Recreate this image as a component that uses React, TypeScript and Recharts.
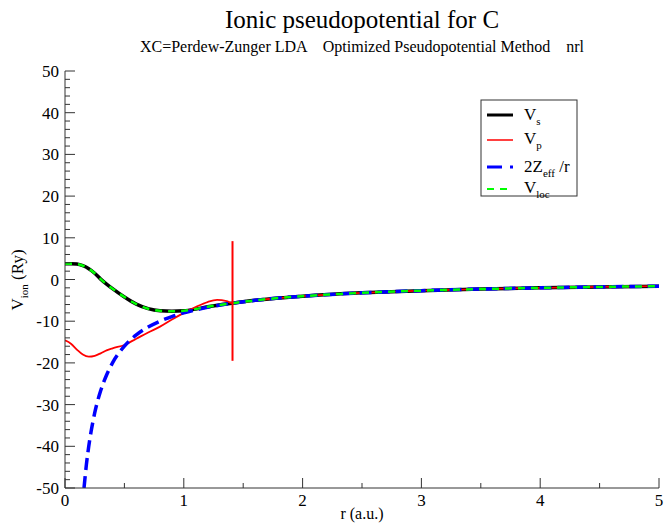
import React from 'react';
import { LineChart, Line, XAxis, YAxis } from 'recharts';

const FONT = 'Liberation Serif, Times New Roman, Times, serif';

// r grid and values (Ry)
const rVs = [0, 0.05, 0.1, 0.15, 0.2, 0.25, 0.3, 0.35, 0.4, 0.5, 0.6, 0.7, 0.8, 0.9, 1.0, 1.1, 1.2, 1.3, 1.41, 1.6, 1.8, 2.0, 2.5, 3.0, 3.5, 4.0, 4.5, 5.0];
const vS = [3.8, 3.8, 3.7, 3.3, 2.6, 1.5, 0.1, -1.1, -2.2, -4.2, -5.9, -7.0, -7.5, -7.6, -7.5, -7.1, -6.55, -6.1, -5.67, -5.0, -4.44, -4.0, -3.2, -2.67, -2.29, -2.0, -1.78, -1.6];
const vLoc = [3.8, 3.8, 3.7, 3.3, 2.6, 1.5, 0.1, -1.1, -2.2, -4.2, -5.9, -7.0, -7.5, -7.6, -7.5, -7.1, -6.55, -6.1, -5.67, -5.0, -4.44, -4.0, -3.2, -2.67, -2.29, -2.0, -1.78, -1.6];

const rVp = [0, 0.05, 0.1, 0.15, 0.2, 0.25, 0.3, 0.35, 0.4, 0.5, 0.6, 0.7, 0.8, 0.9, 1.0, 1.1, 1.2, 1.28, 1.36, 1.41, 1.6, 1.8, 2.0, 2.5, 3.0, 3.5, 4.0, 4.5, 5.0];
const vP = [-14.6, -15.4, -16.8, -18.0, -18.5, -18.3, -17.7, -17.0, -16.5, -15.7, -14.2, -12.7, -11.3, -9.6, -8.0, -6.6, -5.4, -4.9, -5.2, -5.67, -5.0, -4.44, -4.0, -3.2, -2.67, -2.29, -2.0, -1.78, -1.6];

const rZ = [0.16, 0.17, 0.18, 0.2, 0.22, 0.25, 0.3, 0.35, 0.4, 0.5, 0.6, 0.7, 0.8, 0.9, 1.0, 1.2, 1.4, 1.6, 1.8, 2.0, 2.5, 3.0, 3.5, 4.0, 4.5, 5.0];
const vZ = [-50, -47.1, -44.4, -40, -36.4, -32, -26.7, -22.9, -20, -16, -13.3, -11.4, -10, -8.9, -8, -6.67, -5.71, -5.0, -4.44, -4.0, -3.2, -2.67, -2.29, -2.0, -1.78, -1.6];

const rCut = [1.41, 1.41];
const vCut = [9.2, -19.5];

const xTicks = [0, 0.5, 1, 1.5, 2, 2.5, 3, 3.5, 4, 4.5, 5];
const yTicks = [-50, -48, -46, -44, -42, -40, -38, -36, -34, -32, -30, -28, -26, -24, -22, -20, -18, -16, -14, -12, -10, -8, -6, -4, -2, 0, 2, 4, 6, 8, 10, 12, 14, 16, 18, 20, 22, 24, 26, 28, 30, 32, 34, 36, 38, 40, 42, 44, 46, 48, 50];

const toData = (rs: number[], vs: number[]) => rs.map((r, i) => ({ r, v: vs[i] }));
const dataVs = toData(rVs, vS);
const dataVloc = toData(rVs, vLoc);
const dataVp = toData(rVp, vP);
const dataZ = toData(rZ, vZ);
const dataCut = toData(rCut, vCut);

const isMajorX = (v: number) => Math.abs(v - Math.round(v)) < 1e-6;
const isMajorY = (v: number) => Math.abs(v / 10 - Math.round(v / 10)) < 1e-6;
const AX = '#333';

const BottomTick = (p: any) => {
  const { x, y, payload } = p;
  const v = payload.value;
  const major = isMajorX(v);
  return (
    <g>
      <line x1={x} x2={x} y1={y} y2={y - (major ? 10 : 5)} stroke={AX} strokeWidth={1} />
      {major && (
        <text x={x} y={y + 18} textAnchor="middle" fontSize={17} style={{ fontFamily: FONT }} fill="#000">{v}</text>
      )}
    </g>
  );
};
const TopTick = (p: any) => {
  const { x, y, payload } = p;
  const major = isMajorX(payload.value);
  return <line x1={x} x2={x} y1={y} y2={y + (major ? 10 : 5)} stroke={AX} strokeWidth={1} />;
};
const LeftTick = (p: any) => {
  const { x, y, payload } = p;
  const v = payload.value;
  const major = isMajorY(v);
  return (
    <g>
      <line x1={x} x2={x + (major ? 10 : 5)} y1={y} y2={y} stroke={AX} strokeWidth={1} />
      {major && (
        <text x={x - 6} y={y + 6} textAnchor="end" fontSize={17} style={{ fontFamily: FONT }} fill="#000">{v}</text>
      )}
    </g>
  );
};
const RightTick = (p: any) => {
  const { x, y, payload } = p;
  const major = isMajorY(payload.value);
  return <line x1={x} x2={x - (major ? 10 : 5)} y1={y} y2={y} stroke={AX} strokeWidth={1} />;
};

const Sym = ({ x, y, main, sub }: { x: number; y: number; main: string; sub: string }) => (
  <text x={x} y={y} style={{ fontFamily: FONT }} fontSize={17} fill="#000">
    {main}
    <tspan fontSize={11} dy={5}>{sub}</tspan>
  </text>
);

export default function App() {
  return (
    <div style={{ position: 'absolute', left: 0, top: 0, width: 664, height: 523, background: '#fff' }}>
      <LineChart width={664} height={523} margin={{ top: 71, right: 5, bottom: 0, left: 0 }}>
        <XAxis xAxisId="b" orientation="bottom" type="number" dataKey="r" domain={[0, 5]} ticks={xTicks}
          interval={0} height={35} tickSize={0} tickMargin={0} tickLine={false} tick={<BottomTick />}
          axisLine={{ stroke: AX, strokeWidth: 1 }} allowDataOverflow />
        <XAxis xAxisId="t" orientation="top" type="number" dataKey="r" domain={[0, 5]} ticks={xTicks}
          interval={0} height={0} tickSize={0} tickMargin={0} tickLine={false} tick={<TopTick />}
          axisLine={{ stroke: AX, strokeWidth: 1 }} allowDataOverflow />
        <YAxis yAxisId="l" orientation="left" type="number" domain={[-50, 50]} ticks={yTicks}
          interval={0} width={65} tickSize={0} tickMargin={0} tickLine={false} tick={<LeftTick />}
          axisLine={{ stroke: AX, strokeWidth: 1 }} allowDataOverflow />
        <YAxis yAxisId="r" orientation="right" type="number" domain={[-50, 50]} ticks={yTicks}
          interval={0} width={0} tickSize={0} tickMargin={0} tickLine={false} tick={<RightTick />}
          axisLine={{ stroke: AX, strokeWidth: 1 }} allowDataOverflow />
        <Line xAxisId="b" yAxisId="l" data={dataVs} dataKey="v" type="monotone" stroke="#000" strokeWidth={3.5}
          dot={false} isAnimationActive={false} />
        <Line xAxisId="b" yAxisId="l" data={dataVp} dataKey="v" type="monotone" stroke="#ff0000" strokeWidth={1.8}
          dot={false} isAnimationActive={false} />
        <Line xAxisId="b" yAxisId="l" data={dataZ} dataKey="v" type="monotone" stroke="#0000ff" strokeWidth={3.5}
          strokeDasharray="12 6" dot={false} isAnimationActive={false} />
        <Line xAxisId="b" yAxisId="l" data={dataVloc} dataKey="v" type="monotone" stroke="#00ff00" strokeWidth={2.5}
          strokeDasharray="7 6" dot={false} isAnimationActive={false} />
        <Line xAxisId="b" yAxisId="l" data={dataCut} dataKey="v" type="linear" stroke="#ff0000" strokeWidth={2}
          dot={false} isAnimationActive={false} />
      </LineChart>
      <svg width={664} height={523} style={{ position: 'absolute', left: 0, top: 0, pointerEvents: 'none', fontFamily: FONT }}>
        <text x={362} y={28} textAnchor="middle" fontSize={25} fill="#000">Ionic pseudopotential for C</text>
        <text x={362} y={52} textAnchor="middle" fontSize={16} fill="#000" style={{ whiteSpace: 'pre' }}>
          {'XC=Perdew-Zunger LDA    Optimized Pseudopotential Method    nrl'}
        </text>
        <text x={362} y={519} textAnchor="middle" fontSize={16} fill="#000">r (a.u.)</text>
        <g transform="translate(23,280) rotate(-90)">
          <text x={0} y={0} textAnchor="middle" fontSize={17} fill="#000">
            V<tspan fontSize={11} dy={5}>ion</tspan><tspan dy={-5}> (Ry)</tspan>
          </text>
        </g>
        <rect x={481} y={100} width={96} height={96} fill="#fff" stroke="#333" strokeWidth={1} />
        <line x1={487} x2={513} y1={115} y2={115} stroke="#000" strokeWidth={3} />
        <Sym x={524} y={120} main="V" sub="s" />
        <line x1={487} x2={513} y1={140} y2={140} stroke="#ff0000" strokeWidth={1.5} />
        <Sym x={524} y={144} main="V" sub="p" />
        <line x1={487} x2={513} y1={167} y2={167} stroke="#0000ff" strokeWidth={3} strokeDasharray="15 8 3 8" />
        <text x={524} y={172} fontSize={17} fill="#000">
          2Z<tspan fontSize={11} dy={5}>eff</tspan><tspan dy={-5}> /r</tspan>
        </text>
        <line x1={487} x2={513} y1={189} y2={189} stroke="#00ff00" strokeWidth={2} strokeDasharray="7 6" />
        <Sym x={524} y={193} main="V" sub="loc" />
      </svg>
    </div>
  );
}
